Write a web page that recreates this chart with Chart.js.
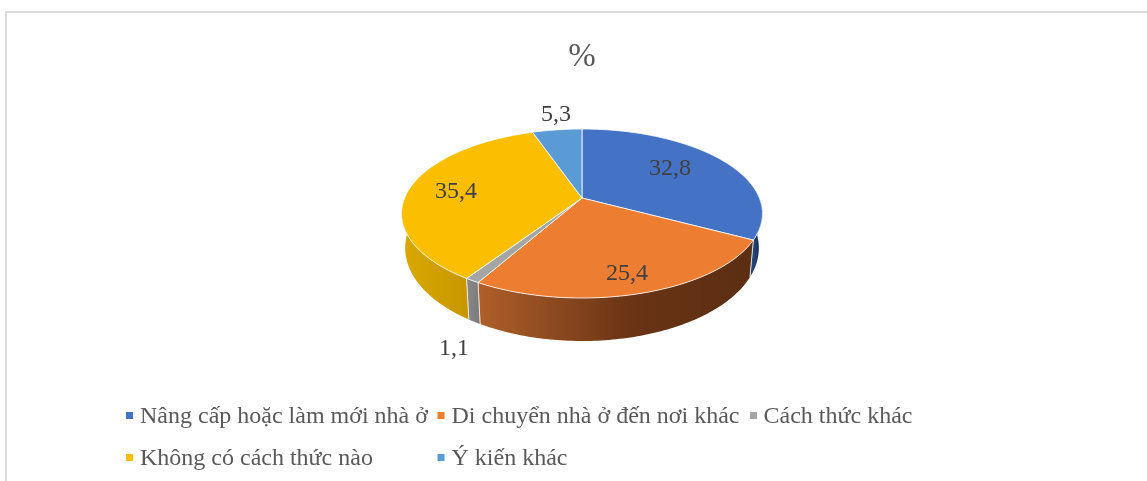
<!DOCTYPE html>
<html><head><meta charset="utf-8">
<style>html,body{margin:0;padding:0;background:#fff;overflow:hidden}
#w{position:absolute;left:0;top:0;width:1147px;height:481px}</style>
<script src="https://cdn.jsdelivr.net/npm/chart.js@4"></script>
</head><body><div id="w"><canvas id="c" width="1147" height="481"></canvas></div>
<script>
const categories=["Nâng cấp hoặc làm mới nhà ở","Di chuyển nhà ở đến nơi khác","Cách thức khác","Không có cách thức nào","Ý kiến khác"];
const values=[32.8,25.4,1.1,35.4,5.3];
const valueLabels=["32,8","25,4","1,1","35,4","5,3"];
const colors=["#4472C4","#ED7D31","#A5A5A5","#FCBE00","#5B9BD5"];
const FONT='"Liberation Serif","Times New Roman",serif';
const TXT='#595959';

// disc projection: tilted circle with slight perspective; the lower rim converges
const P={cx:582,cy:198,R:177.4,S:81.66,k:0.1834,sx:0.98,sy:1.10,yBot:298,yBotTo:341};
const proj=(a,extr)=>{
  const u=Math.cos(a),v=Math.sin(a),w=1-P.k*v;
  const x=P.cx+P.R*u/w,y=P.cy+P.S*v/w;
  return extr?[P.cx+P.sx*(x-P.cx),P.yBotTo+P.sy*(y-P.yBot)]:[x,y];
};
const STEP=Math.PI/180;
function arcPts(s,e,extr){const n=Math.max(2,Math.ceil((e-s)/STEP));const o=[];
  for(let i=0;i<=n;i++)o.push(proj(s+(e-s)*i/n,extr));return o;}
function trace(ctx,pts,first){pts.forEach((p,i)=>(i===0&&first)?ctx.moveTo(p[0],p[1]):ctx.lineTo(p[0],p[1]));}

const disc={id:'disc',
  beforeDatasetDraw(chart){
    const ctx=chart.ctx,arcs=chart.getDatasetMeta(0).data;
    const spans=arcs.map(a=>[a.startAngle,a.endAngle]);
    const lim0=0.05, lim1=Math.PI-0.05;
    spans.forEach(([s0,e0],i)=>{
      const s=Math.max(s0,lim0),e=Math.min(e0,lim1);
      if(e<=s)return;
      ctx.save();ctx.beginPath();
      trace(ctx,arcPts(s,e,false),true);
      trace(ctx,arcPts(s,e,true).reverse(),false);ctx.closePath();
      const a=proj(s)[0],b=proj(e)[0];
      const g=ctx.createLinearGradient(Math.min(a,b),0,Math.max(a,b),0);
      if(i===0){g.addColorStop(0,'#274478');g.addColorStop(1,'#142a55');}
      else if(i===1){g.addColorStop(0,'#AF5F2A');g.addColorStop(.55,'#6a3415');g.addColorStop(1,'#5c2e12');}
      else if(i===2){g.addColorStop(0,'#8a8a8a');g.addColorStop(1,'#7c7c7c');}
      else {g.addColorStop(0,'#DBA800');g.addColorStop(1,'#C69700');}
      ctx.fillStyle=g;ctx.fill();ctx.restore();
      ctx.save();ctx.strokeStyle='rgba(255,255,255,.65)';ctx.lineWidth=1;
      [s0,e0].forEach(t=>{if(t>=lim0&&t<=lim1){const p=proj(t),q=proj(t,true);
        ctx.beginPath();ctx.moveTo(p[0],p[1]);ctx.lineTo(q[0],q[1]);ctx.stroke();}});
      ctx.restore();
    });
    arcs.forEach((a,i)=>{
      ctx.save();ctx.beginPath();ctx.moveTo(P.cx,P.cy);
      trace(ctx,arcPts(a.startAngle,a.endAngle,false),false);ctx.closePath();
      ctx.fillStyle=colors[i];ctx.fill();
      ctx.strokeStyle='rgba(255,255,255,.8)';ctx.lineWidth=1;ctx.lineJoin='round';ctx.stroke();
      ctx.restore();
    });
    return false;
  },
  afterDraw(chart){
    const ctx=chart.ctx;
    ctx.save();ctx.fillStyle='#dcdcdc';
    ctx.fillRect(5,11,1142,2);ctx.fillRect(5,11,2,470);
    ctx.restore();
    const spots=[[670,169],[627,274],[454,349],[456,192],[556,115]];
    ctx.save();ctx.font='24px '+FONT;ctx.fillStyle='#404040';ctx.textAlign='center';ctx.textBaseline='middle';
    valueLabels.forEach((t,i)=>ctx.fillText(t,spots[i][0],spots[i][1]));
    const rows=[[126,140,417,0],[437.5,451.5,417,1],[750,763.5,417,2],[126,140,459,3],[437.5,451.5,459,4]];
    ctx.textAlign='left';
    rows.forEach(([bx,x,y,i])=>{
      ctx.fillStyle=colors[i];ctx.fillRect(bx,y-5,7,7);
      ctx.fillStyle=TXT;ctx.fillText(categories[i],x,y);
    });
    ctx.restore();
  }
};
new Chart(document.getElementById('c'),{
  type:'pie',
  data:{labels:categories,datasets:[{data:values,backgroundColor:colors,borderWidth:0}]},
  options:{responsive:false,animation:false,
    layout:{padding:{left:17}},
    plugins:{legend:{display:false},tooltip:{enabled:false},
      title:{display:true,text:'%',color:TXT,font:{family:FONT,size:33,weight:'normal'},padding:{top:38,bottom:0}}}},
  plugins:[disc]
});
</script></body></html>
